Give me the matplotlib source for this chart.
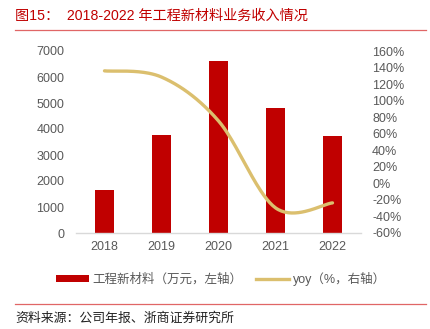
import numpy as np
import matplotlib
matplotlib.use("Agg")
import matplotlib.pyplot as plt
from matplotlib.patches import Patch
from matplotlib.lines import Line2D

# ---- data ----
years = ["2018", "2019", "2020", "2021", "2022"]
revenue = [1650, 3760, 6600, 4820, 3720]          # 万元
yoy = [136.0, 128.5, 75.5, -29.6, -23.6]            # %
left_ticks = [0, 1000, 2000, 3000, 4000, 5000, 6000, 7000]
right_ticks = [-60, -40, -20, 0, 20, 40, 60, 80, 100, 120, 140, 160]

title_text = "图15：  2018-2022 年工程新材料业务收入情况"
source_text = "资料来源：公司年报、浙商证券研究所"
bar_label = "工程新材料（万元，左轴）"
line_label = "yoy（%，右轴）"

FAM = ["Liberation Sans", "Noto Sans CJK SC", "DejaVu Sans"]
plt.rcParams["font.family"] = FAM

BAR_C = "#C00000"
LINE_C = "#DBBF6E"
TICK_C = "#595959"
RULE_C = "#E06666"

W, H = 431, 329
fig = plt.figure(figsize=(W / 100, H / 100), dpi=100)

ax = fig.add_axes([76 / W, 1 - 233 / H, (361 - 76) / W, (233 - 51) / H])
x = np.arange(len(years))
bars = ax.bar(x, revenue, width=0.32, color=BAR_C, zorder=2)
ax.set_xlim(-0.5, len(years) - 0.5)
ax.set_ylim(0, 7000)
ax.set_yticks(left_ticks)
ax.set_xticks(x)
ax.set_xticklabels(years)
for s in ["top", "right", "left"]:
    ax.spines[s].set_visible(False)
ax.spines["bottom"].set_color("#D9D9D9")
ax.spines["bottom"].set_linewidth(1.0)
ax.tick_params(axis="both", length=0, labelsize=9, colors=TICK_C)
ax.tick_params(axis="y", pad=8.5)
ax.tick_params(axis="x", pad=6)

ax2 = ax.twinx()
ax2.set_ylim(-60, 160)
ax2.set_yticks(right_ticks)
ax2.set_yticklabels([f"{t}%" for t in right_ticks])
for s in ["top", "right", "left", "bottom"]:
    ax2.spines[s].set_visible(False)
ax2.tick_params(axis="y", length=0, labelsize=9, colors=TICK_C, pad=8)

# smoothed line (Catmull-Rom / Bezier style smoothing through data points)
px = x.astype(float)
py = np.array(yoy, dtype=float)
xs_all, ys_all = [], []
n = len(px)
for i in range(n - 1):
    p0 = np.array([px[max(i - 1, 0)], py[max(i - 1, 0)]])
    p1 = np.array([px[i], py[i]])
    p2 = np.array([px[i + 1], py[i + 1]])
    p3 = np.array([px[min(i + 2, n - 1)], py[min(i + 2, n - 1)]])
    c1 = p1 + (p2 - p0) / 6.0
    c2 = p2 - (p3 - p1) / 6.0
    t = np.linspace(0, 1, 40)[:, None]
    b = ((1 - t) ** 3) * p1 + 3 * ((1 - t) ** 2) * t * c1 + 3 * (1 - t) * t ** 2 * c2 + t ** 3 * p2
    xs_all.append(b[:, 0])
    ys_all.append(b[:, 1])
ax2.plot(np.concatenate(xs_all), np.concatenate(ys_all), color=LINE_C, lw=2.4,
         solid_capstyle="round", zorder=3)

# title and rules
fig.text(15 / W, 1 - 15.5 / H, title_text, color=BAR_C, fontsize=10.2,
         va="center", ha="left", family=FAM)
fig.add_artist(Line2D([15 / W, 426 / W], [1 - 29.5 / H, 1 - 29.5 / H],
                      color=RULE_C, lw=0.9))
fig.add_artist(Line2D([15 / W, 426 / W], [1 - 303.5 / H, 1 - 303.5 / H],
                      color=RULE_C, lw=0.9))
fig.text(15 / W, 1 - 319 / H, source_text, color="#222222", fontsize=9.3,
         va="center", ha="left", family=FAM)

# legend
handles = [Patch(facecolor=BAR_C, edgecolor="none", label=bar_label),
           Line2D([0], [0], color=LINE_C, lw=2.4, label=line_label)]
leg = fig.legend(handles=handles, loc="center", ncol=2,
                 bbox_to_anchor=(221 / W, 1 - 278.5 / H), frameon=False,
                 handlelength=2.6, handleheight=0.5,
                 handletextpad=0.3, columnspacing=1.1, borderpad=0,
                 prop={"family": FAM, "size": 9})
for t in leg.get_texts():
    t.set_color(TICK_C)

fig.savefig("out.png", dpi=100)
